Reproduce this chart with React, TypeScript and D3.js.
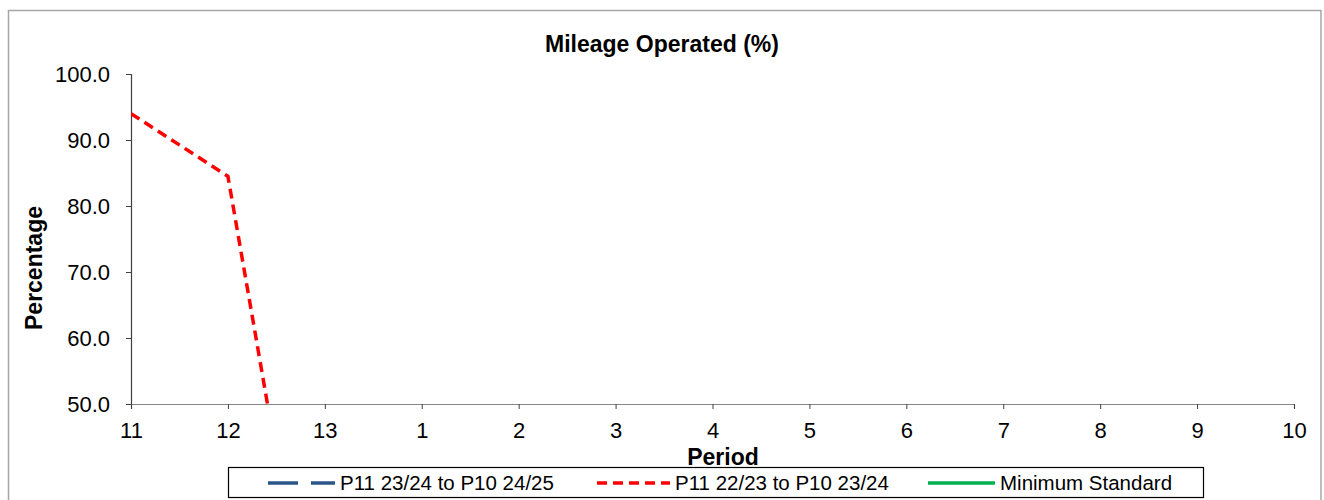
import React, { useEffect, useRef } from "react";
import * as d3 from "d3";

const periods = ["11", "12", "13", "1", "2", "3", "4", "5", "6", "7", "8", "9", "10"];
const current: (number | null)[] = [null, null, null, null, null, null, null, null, null, null, null, null, null];
const previous: (number | null)[] = [94.0, 84.5, 0, null, null, null, null, null, null, null, null, null, null];
const minStandard: (number | null)[] = [null, null, null, null, null, null, null, null, null, null, null, null, null];
const yTicks = [50, 60, 70, 80, 90, 100];

const seriesNames = ["P11 23/24 to P10 24/25", "P11 22/23 to P10 23/24", "Minimum Standard"];

const W = 1324;
const H = 500;

const App = () => {
  const ref = useRef<SVGSVGElement>(null);

  useEffect(() => {
    drawChart();
  }, []);

  function drawChart() {
    const svg = d3.select(ref.current);
    svg.selectAll("*").remove();
    const font = "'Liberation Sans', Arial, sans-serif";

    const plot = { left: 131, right: 1294, top: 74, bottom: 404 };

    // outer frame
    svg
      .append("rect")
      .attr("x", 8.5)
      .attr("y", 10.5)
      .attr("width", 1312.5)
      .attr("height", 500)
      .attr("fill", "white")
      .attr("stroke", "#a6a6a6")
      .attr("stroke-width", 1.5);

    const x = d3.scalePoint().domain(periods).range([plot.left, plot.right]);
    const y = d3.scaleLinear().domain([50, 100]).range([plot.bottom, plot.top]);

    svg
      .append("defs")
      .append("clipPath")
      .attr("id", "plotclip")
      .append("rect")
      .attr("x", plot.left)
      .attr("y", plot.top - 5)
      .attr("width", plot.right - plot.left + 5)
      .attr("height", plot.bottom - plot.top + 5);

    // y axis
    const yAxis = svg
      .append("g")
      .attr("transform", `translate(${plot.left},0)`)
      .call(d3.axisLeft(y).tickValues(yTicks).tickSize(5).tickPadding(16).tickFormat(d3.format(".1f")));
    yAxis.select(".domain").attr("stroke", "#404040").attr("stroke-width", 1.2);
    yAxis.selectAll(".tick line").attr("stroke", "#404040");
    yAxis.selectAll("text").attr("font-family", font).attr("font-size", 22).attr("fill", "#000");

    // x axis
    const xAxis = svg
      .append("g")
      .attr("transform", `translate(0,${plot.bottom})`)
      .call(d3.axisBottom(x).tickSize(5).tickPadding(13));
    xAxis.select(".domain").attr("stroke", "#868686").attr("stroke-width", 1.2);
    xAxis.selectAll(".tick line").attr("stroke", "#404040");
    xAxis.selectAll("text").attr("font-family", font).attr("font-size", 22).attr("fill", "#000");

    const line = d3
      .line<number | null>()
      .defined((d) => d !== null)
      .x((_, i) => x(periods[i]) as number)
      .y((d) => y(d as number));

    const g = svg.append("g").attr("clip-path", "url(#plotclip)");
    g.append("path")
      .datum(minStandard)
      .attr("fill", "none")
      .attr("stroke", "#00B050")
      .attr("stroke-width", 3.5)
      .attr("d", line);
    g.append("path")
      .datum(previous)
      .attr("fill", "none")
      .attr("stroke", "#FF0000")
      .attr("stroke-width", 3.5)
      .attr("stroke-dasharray", "10,6")
      .attr("d", line);
    g.append("path")
      .datum(current)
      .attr("fill", "none")
      .attr("stroke", "#2A5589")
      .attr("stroke-width", 3.5)
      .attr("stroke-dasharray", "30,13")
      .attr("d", line);

    // title
    svg
      .append("text")
      .attr("x", 662)
      .attr("y", 52)
      .attr("text-anchor", "middle")
      .attr("font-family", font)
      .attr("font-weight", "bold")
      .attr("font-size", 23)
      .text("Mileage Operated (%)");

    // axis titles
    svg
      .append("text")
      .attr("transform", `translate(42,268) rotate(-90)`)
      .attr("text-anchor", "middle")
      .attr("font-family", font)
      .attr("font-weight", "bold")
      .attr("font-size", 23)
      .text("Percentage");
    svg
      .append("text")
      .attr("x", 723)
      .attr("y", 465)
      .attr("text-anchor", "middle")
      .attr("font-family", font)
      .attr("font-weight", "bold")
      .attr("font-size", 23)
      .text("Period");

    // legend
    svg
      .append("rect")
      .attr("x", 228.5)
      .attr("y", 467.5)
      .attr("width", 975)
      .attr("height", 30)
      .attr("fill", "white")
      .attr("stroke", "#000")
      .attr("stroke-width", 1.2);

    const legendItems = [
      { name: seriesNames[0], color: "#2A5589", dash: "30,13", x0: 268, x1: 335 },
      { name: seriesNames[1], color: "#FF0000", dash: "10,6", x0: 597, x1: 670 },
      { name: seriesNames[2], color: "#00B050", dash: null, x0: 928, x1: 995 },
    ];
    legendItems.forEach((it) => {
      svg
        .append("line")
        .attr("x1", it.x0)
        .attr("x2", it.x1)
        .attr("y1", 483)
        .attr("y2", 483)
        .attr("stroke", it.color)
        .attr("stroke-width", 3.5)
        .attr("stroke-dasharray", it.dash);
      svg
        .append("text")
        .attr("x", it.x1 + 5)
        .attr("y", 490)
        .attr("font-family", font)
        .attr("font-size", 20.5)
        .text(it.name);
    });
  }

  return (
    <svg
      ref={ref}
      width={W}
      height={H}
      style={{ position: "absolute", left: 0, top: 0, background: "white" }}
    />
  );
};

export default App;
